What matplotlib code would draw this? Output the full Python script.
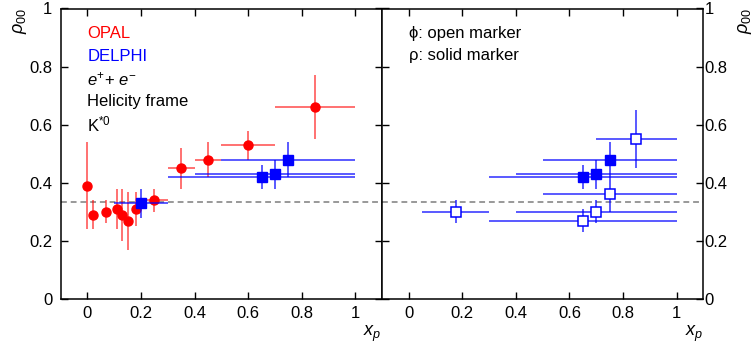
import matplotlib
matplotlib.use("Agg")
import matplotlib.pyplot as plt
from matplotlib.ticker import FuncFormatter, MultipleLocator

plt.rcParams["font.family"] = ["Liberation Sans", "DejaVu Sans"]
plt.rcParams["mathtext.fontset"] = "custom"
plt.rcParams["mathtext.rm"] = "Liberation Sans"
plt.rcParams["mathtext.it"] = "Liberation Sans:italic"

# OPAL (rojo)
opal_x = [0.0, 0.02, 0.07, 0.11, 0.13, 0.15, 0.18, 0.25, 0.35, 0.45, 0.60, 0.85]
opal_y = [0.39, 0.29, 0.30, 0.31, 0.29, 0.27, 0.31, 0.34, 0.45, 0.48, 0.53, 0.66]
opal_yerr = [0.15, 0.05, 0.04, 0.07, 0.09, 0.10, 0.06, 0.04, 0.07, 0.06, 0.05, 0.11]
opal_xerr = [0, 0, 0, 0, 0, 0, 0, 0.05, 0.05, 0.05, 0.10, 0.15]

# DELPHI rho (marcador lleno)
rho_x = [0.20, 0.65, 0.70, 0.75]
rho_y = [0.33, 0.42, 0.43, 0.48]
rho_xlo = [0.10, 0.30, 0.40, 0.50]
rho_xhi = [0.30, 1.0, 1.0, 1.0]
rho_yerr = [0.05, 0.04, 0.05, 0.06]

# DELPHI phi (marcador abierto)
phi_x = [0.175, 0.65, 0.70, 0.75, 0.85]
phi_y = [0.30, 0.27, 0.30, 0.36, 0.55]
phi_xlo = [0.05, 0.30, 0.40, 0.50, 0.70]
phi_xhi = [0.30, 1.0, 1.0, 1.0, 1.0]
phi_yerr = [0.04, 0.04, 0.04, 0.06, 0.10]

W, H = 753, 347
fig = plt.figure(figsize=(W / 100, H / 100), dpi=100)
x0 = 60.7 / W
pw = (382 - 60.7) / W
y0 = 1 - 299 / H
ph = (299 - 8.5) / H
ax1 = fig.add_axes([x0, y0, pw, ph])
ax2 = fig.add_axes([x0 + pw, y0, pw, ph])

red_e = (1, 0, 0, 0.6)
blue_e = (0, 0, 1, 0.7)


def xerrs(x, lo, hi):
    return [[a - b for a, b in zip(x, lo)], [b - a for a, b in zip(x, hi)]]


for ax in (ax1, ax2):
    ax.set_xlim(-0.1, 1.1)
    ax.set_ylim(0, 1)
    ax.axhline(1 / 3, color="#999999", lw=1.4, ls=(0, (3, 2)), zorder=1)
    ax.xaxis.set_major_locator(MultipleLocator(0.2))
    ax.yaxis.set_major_locator(MultipleLocator(0.2))
    fmt = FuncFormatter(lambda v, p: "%g" % round(v, 2))
    ax.xaxis.set_major_formatter(fmt)
    ax.yaxis.set_major_formatter(fmt)
    ax.tick_params(direction="in", length=5, width=1, labelsize=12,
                   top=True, bottom=True, left=True, right=True)
    ax.tick_params(axis="x", pad=5)
    for s in ax.spines.values():
        s.set_linewidth(1.1)

ax1.tick_params(axis="y", pad=6)
ax2.tick_params(axis="y", labelleft=False, labelright=True, pad=1)

# panel izquierdo
ax1.errorbar(opal_x, opal_y, yerr=opal_yerr, xerr=opal_xerr, fmt="o", color="red",
             ecolor=red_e, elinewidth=1.3, ms=6.5, capsize=0, zorder=3)
ax1.errorbar(rho_x, rho_y, yerr=rho_yerr, xerr=xerrs(rho_x, rho_xlo, rho_xhi), fmt="s",
             color="blue", ecolor=blue_e, elinewidth=1.3, ms=7, capsize=0, zorder=4)

ax1.text(0.0, 0.899, "OPAL", color="red", fontsize=12, va="baseline")
ax1.text(0.0, 0.819, "DELPHI", color="blue", fontsize=12, va="baseline")
ax1.text(0.0, 0.736, r"$e^{+}$+ $e^{-}$", fontsize=12, va="baseline")
ax1.text(0.0, 0.664, "Helicity frame", fontsize=12, va="baseline")
ax1.text(0.0, 0.578, r"K$^{*0}$", fontsize=12, va="baseline")

# panel derecho
ax2.errorbar(phi_x, phi_y, yerr=phi_yerr, xerr=xerrs(phi_x, phi_xlo, phi_xhi), fmt="s",
             color="blue", mfc="white", mew=1.1, ecolor=blue_e, elinewidth=1.3, ms=7,
             capsize=0, zorder=3)
ax2.errorbar(rho_x[1:], rho_y[1:], yerr=rho_yerr[1:],
             xerr=xerrs(rho_x[1:], rho_xlo[1:], rho_xhi[1:]), fmt="s",
             color="blue", ecolor=blue_e, elinewidth=1.3, ms=7, capsize=0, zorder=4)

ax2.text(0.0, 0.90, "ϕ: open marker", fontsize=12, va="baseline")
ax2.text(0.0, 0.822, "ρ: solid marker", fontsize=12, va="baseline")

# etiquetas de ejes
fig.text(20 / W, 1 - 8 / H, r"$\rho_{00}$", rotation=90, ha="center", va="top", fontsize=13)
fig.text(745 / W, 1 - 8 / H, r"$\rho_{00}$", rotation=90, ha="center", va="top", fontsize=13)
fig.text(381 / W, 1 - 334 / H, r"$x_{p}$", ha="right", va="center", fontsize=13)
fig.text(703 / W, 1 - 334 / H, r"$x_{p}$", ha="right", va="center", fontsize=13)

plt.savefig("out.png", dpi=100)
plt.close()
